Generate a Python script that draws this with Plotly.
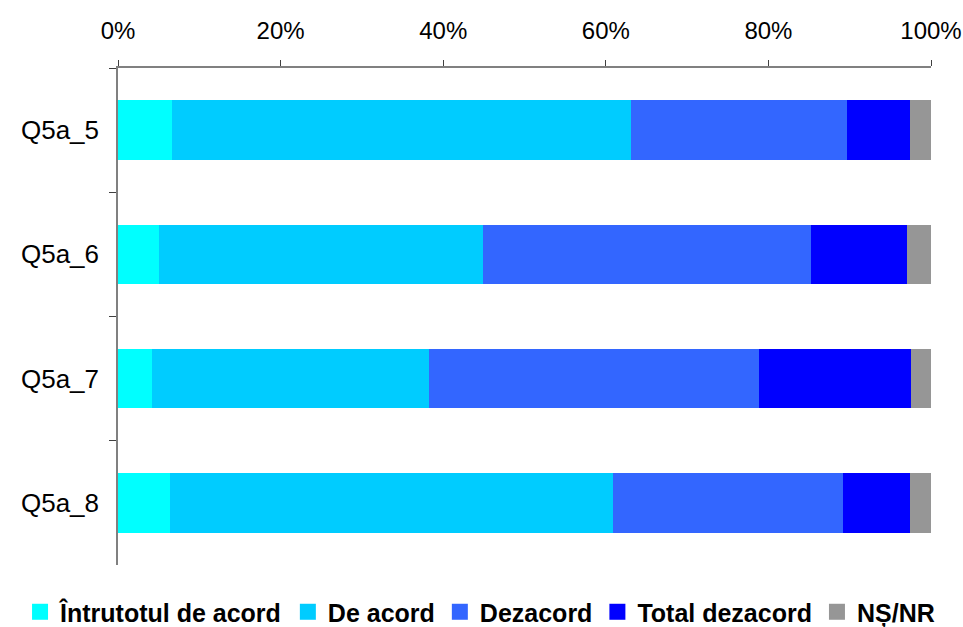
import plotly.graph_objects as go

categories = ["Q5a_5", "Q5a_6", "Q5a_7", "Q5a_8"]
series_names = ["Întrutotul de acord", "De acord", "Dezacord", "Total dezacord", "NȘ/NR"]
intrutotul = [6.6, 5.0, 4.2, 6.4]
de_acord = [56.5, 39.9, 34.1, 54.5]
dezacord = [26.6, 40.3, 40.5, 28.3]
total_dezacord = [7.7, 11.9, 18.7, 8.2]
ns_nr = [2.6, 2.9, 2.5, 2.6]
colors = ["#00FFFF", "#00CCFF", "#3366FF", "#0000FF", "#969696"]
x_ticks = [0, 20, 40, 60, 80, 100]
x_tick_labels = ["0%", "20%", "40%", "60%", "80%", "100%"]

FONT = "Arial, 'Liberation Sans', sans-serif"
series_values = [intrutotul, de_acord, dezacord, total_dezacord, ns_nr]

fig = go.Figure()
for name, vals, col in zip(series_names, series_values, colors):
    fig.add_trace(go.Bar(
        y=categories, x=vals, name=name, orientation="h",
        marker=dict(color=col, line=dict(width=0)),
        showlegend=False,
    ))
# legend entries with larger square symbols
for name, col in zip(series_names, colors):
    fig.add_trace(go.Scatter(
        x=[None], y=[None], mode="markers", name=name,
        marker=dict(symbol="square", size=16, color=col),
        showlegend=True,
    ))

fig.update_layout(
    width=963, height=627,
    barmode="stack", bargap=0.52,
    plot_bgcolor="white", paper_bgcolor="white",
    margin=dict(l=118, r=32, t=68, b=62, autoexpand=False),
    font=dict(family=FONT, size=24, color="black"),
    legend=dict(
        orientation="h", traceorder="normal",
        x=-0.1205, xanchor="left", y=-0.0946, yanchor="middle",
        font=dict(family=FONT, size=25, color="black", weight="bold"),
        itemclick=False, tracegroupgap=0,
    ),
    xaxis=dict(
        side="top", range=[0, 100], tickmode="array",
        tickvals=x_ticks, ticktext=x_tick_labels,
        showgrid=False, zeroline=False, automargin=False,
        showline=True, linecolor="#808080", linewidth=1.5,
        ticks="outside", ticklen=6, tickcolor="#404040", tickwidth=1,
        ticklabelstandoff=12,
        tickfont=dict(family=FONT, size=24, color="black"),
        fixedrange=True,
    ),
    yaxis=dict(
        type="category", categoryorder="array", categoryarray=categories,
        range=[3.5, -0.5], automargin=False,
        showgrid=False, zeroline=False,
        showline=True, linecolor="#808080", linewidth=1.5,
        ticks="outside", tickson="boundaries", ticklen=7,
        tickcolor="#404040", tickwidth=1,
        ticklabelstandoff=12,
        tickfont=dict(family=FONT, size=26, color="black"),
        fixedrange=True,
    ),
)

fig.write_html(
    "out.html",
    config={"displayModeBar": False},
    post_script="document.body.style.margin='0';document.body.style.overflow='hidden';",
)
